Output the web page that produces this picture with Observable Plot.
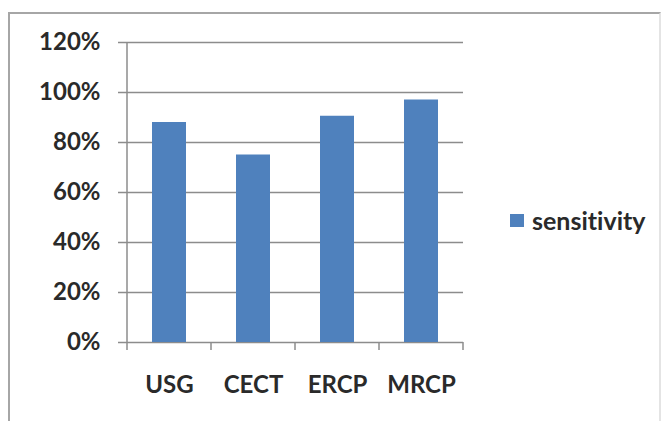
<!DOCTYPE html>
<html>
<head>
<meta charset="utf-8">
<script src="https://cdn.jsdelivr.net/npm/d3@7"></script>
<script src="https://cdn.jsdelivr.net/npm/@observablehq/plot@0.6"></script>
<style>
  html, body { margin: 0; padding: 0; background: #fff; }
  #wrap { position: relative; width: 667px; height: 421px; overflow: hidden; font-family: Lato, "Open Sans", sans-serif; font-variant-ligatures: none; }
  #border { position: absolute; left: 8px; top: 12px; width: 653px; height: 430px; border: 2px solid #a6a6a6; border-right-color: #e4e4e4; border-bottom: none; box-sizing: border-box; }
  #legend { position: absolute; left: 510px; top: 205px; display: flex; align-items: center; font-size: 25px; font-weight: bold; color: #2a2a2a; }
  #legend .sw { width: 14px; height: 13px; background: #4f81bd; margin-right: 8px; }
  svg { position: absolute; left: 0; top: 0; }
  svg text { font-variant-ligatures: none; }
</style>
</head>
<body>
<div id="wrap">
  <div id="border"></div>
  <div id="legend"></div>
</div>
<script>
const categories = ["USG", "CECT", "ERCP", "MRCP"];
const sensitivity = [0.88, 0.75, 0.905, 0.97];
const seriesName = "sensitivity";
const yTicks = [0, 0.2, 0.4, 0.6, 0.8, 1.0, 1.2];

const data = categories.map((c, i) => ({category: c, value: sensitivity[i]}));

const gridColor = "#8c8c8c";
const barColor = "#4f81bd";

function boundaryTicks(index, scales, values, dimensions) {
  const x = scales.x, y = scales.y;
  const step = x(categories[1]) - x(categories[0]);
  const bw = typeof x.bandwidth === "function" ? x.bandwidth() : step * 0.4;
  const left = x(categories[0]) - (step - bw) / 2;
  const y0 = y(0), yTop = y(yTicks[yTicks.length - 1]);
  const g = d3.create("svg:g").attr("stroke", gridColor).attr("stroke-width", 1.5);
  g.append("line").attr("x1", left).attr("x2", left).attr("y1", yTop).attr("y2", y0 + 8);
  for (let i = 1; i <= categories.length; i++) {
    const xx = left + i * step;
    g.append("line").attr("x1", xx).attr("x2", xx).attr("y1", y0).attr("y2", y0 + 8);
  }
  return g.node();
}

const chart = Plot.plot({
  width: 667,
  height: 421,
  marginLeft: 127,
  marginRight: 204,
  marginTop: 42,
  marginBottom: 79,
  style: {fontFamily: "Lato, 'Open Sans', sans-serif", fontSize: "24px", fontWeight: "bold", color: "#2a2a2a", background: "transparent", overflow: "visible"},
  x: {domain: categories, paddingInner: 0.6, paddingOuter: 0.3, label: null},
  y: {domain: [0, 1.2], label: null},
  marks: [
    Plot.ruleY(yTicks, {stroke: gridColor, strokeWidth: 1.5, insetLeft: -9}),
    Plot.barY(data, {x: "category", y: "value", fill: barColor}),
    Plot.axisY(yTicks, {tickSize: 0, tickPadding: 27, tickFormat: d3.format(".0%"), fontSize: 24, label: null}),
    Plot.axisX({tickSize: 0, tickPadding: 33, fontSize: 24, label: null}),
    boundaryTicks
  ]
});

document.getElementById("wrap").appendChild(chart);
const lg = document.getElementById("legend");
lg.innerHTML = `<div class="sw"></div><span>${seriesName}</span>`;
</script>
</body>
</html>
